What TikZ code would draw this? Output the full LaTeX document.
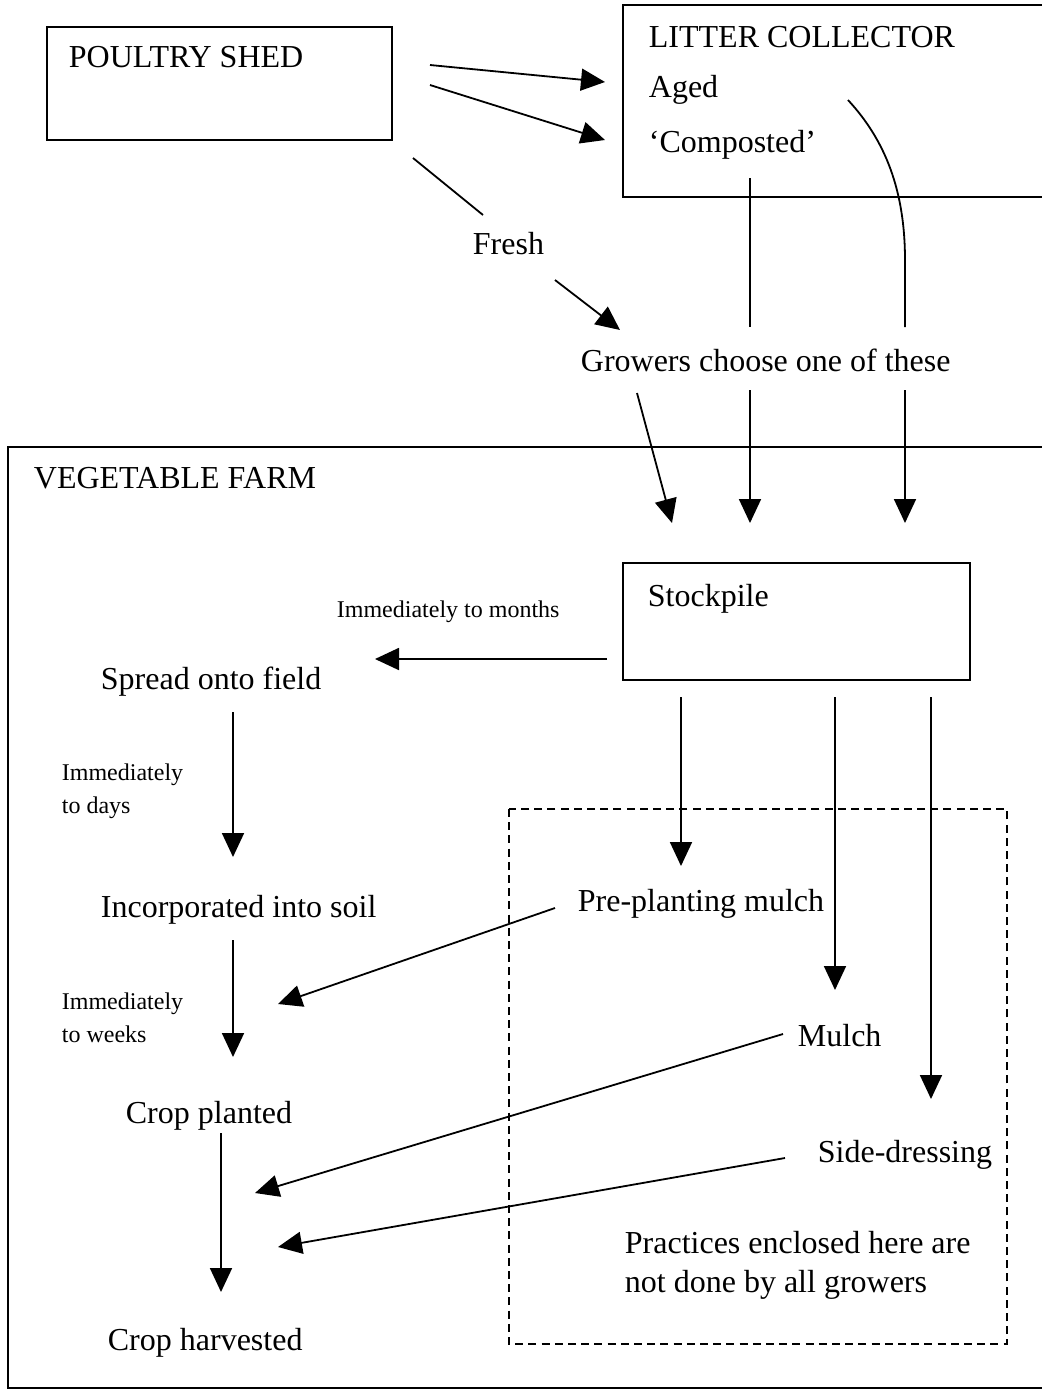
\documentclass[tikz,border=0pt]{standalone}
\usepackage{fontspec}
\setmainfont{Liberation Serif}
\usetikzlibrary{arrows.meta}
\begin{document}
\begin{tikzpicture}[x=0.5pt,y=-0.5pt,
  line width=0.9pt,
  arr/.style={-{Triangle[length=12pt,width=11pt]}},
  big/.style={font=\fontsize{16}{19}\selectfont, inner sep=0pt, anchor=base west},
  small/.style={font=\fontsize{12}{14}\selectfont, inner sep=0pt, anchor=base west},
  box/.style={draw, line width=0.9pt, inner sep=0pt},
  dashbox/.style={draw, line width=0.7pt, dash pattern=on 4pt off 2.6pt}]
\useasboundingbox (0,0) rectangle (1042,1394);

% boxes
\node[box, minimum width=172.5pt, minimum height=56.5pt] (shed) at (219.5,83.5) {};
\draw[line width=0.9pt] (1042,5) -- (623,5) -- (623,197) -- (1042,197);
\draw[line width=0.9pt] (1042,447) -- (8,447) -- (8,1388) -- (1042,1388);
\node[box, minimum width=173.5pt, minimum height=58.5pt] (stock) at (796.5,621.5) {};
\draw[dashbox] (509,809) rectangle (1007,1344);

% texts
\node[big] (shedT) at (68,67) {POULTRY SHED};
\node[big] (litT) at (648,47) {LITTER COLLECTOR};
\node[big] (aged) at (648,97) {Aged};
\node[big] (comp) at (648,152) {‘Composted’};
\node[big] (fresh) at (472,254) {Fresh};
\node[big] (grow) at (580,371) {Growers choose one of these};
\node[big] (veg) at (33,488) {VEGETABLE FARM};
\node[big] (stockT) at (647,606) {Stockpile};
\node[small] (months) at (336,617) {Immediately to months};
\node[big] (spread) at (100,689) {Spread onto field};
\node[small] (d1) at (61,780) {Immediately};
\node[small] (d2) at (61,813) {to days};
\node[big] (incorp) at (100,917) {Incorporated into soil};
\node[small] (w1) at (61,1009) {Immediately};
\node[small] (w2) at (61,1042) {to weeks};
\node[big] (planted) at (125,1123) {Crop planted};
\node[big] (harv) at (107,1350) {Crop harvested};
\node[big] (pre) at (577,911) {Pre-planting mulch};
\node[big] (mulch) at (797,1046) {Mulch};
\node[big] (side) at (817,1162) {Side-dressing};
\node[big] (prac1) at (624,1253) {Practices enclosed here are};
\node[big] (prac2) at (624,1292) {not done by all growers};

% connector end points
\coordinate (a1s) at (430,65);   \coordinate (a1e) at (605,82);
\coordinate (a2s) at (430,85);   \coordinate (a2e) at (605,140);
\coordinate (f1s) at (413,158);  \coordinate (f1e) at (483,215);
\coordinate (f2s) at (555,280);  \coordinate (f2e) at (620,330);
\coordinate (cs) at (750,178);   \coordinate (ce) at (750,327);
\coordinate (gs) at (848,100);   \coordinate (gm) at (905,260); \coordinate (ge) at (905,327);
\coordinate (g1s) at (637,393);  \coordinate (g1e) at (672,523);
\coordinate (g2s) at (750,390);  \coordinate (g2e) at (750,523);
\coordinate (g3s) at (905,390);  \coordinate (g3e) at (905,523);
\coordinate (sps) at (607,659);  \coordinate (spe) at (375,659);
\coordinate (v1s) at (233,712);  \coordinate (v1e) at (233,857);
\coordinate (v2s) at (233,940);  \coordinate (v2e) at (233,1057);
\coordinate (v3s) at (221,1133); \coordinate (v3e) at (221,1292);
\coordinate (s1s) at (681,697);  \coordinate (s1e) at (681,866);
\coordinate (s2s) at (835,697);  \coordinate (s2e) at (835,990);
\coordinate (s3s) at (931,697);  \coordinate (s3e) at (931,1099);
\coordinate (p1s) at (555,908);  \coordinate (p1e) at (278,1004);
\coordinate (p2s) at (783,1034); \coordinate (p2e) at (255,1193);
\coordinate (p3s) at (785,1158); \coordinate (p3e) at (278,1247);

% connectors
\draw[arr] (a1s) -- (a1e);
\draw[arr] (a2s) -- (a2e);
\draw (f1s) -- (f1e);
\draw[arr] (f2s) -- (f2e);
\draw (cs) -- (ce);
\draw (gs) .. controls (885,140) and (905,190) .. (gm) -- (ge);
\draw[arr] (g1s) -- (g1e);
\draw[arr] (g2s) -- (g2e);
\draw[arr] (g3s) -- (g3e);
\draw[arr] (sps) -- (spe);
\draw[arr] (v1s) -- (v1e);
\draw[arr] (v2s) -- (v2e);
\draw[arr] (v3s) -- (v3e);
\draw[arr] (s1s) -- (s1e);
\draw[arr] (s2s) -- (s2e);
\draw[arr] (s3s) -- (s3e);
\draw[arr] (p1s) -- (p1e);
\draw[arr] (p2s) -- (p2e);
\draw[arr] (p3s) -- (p3e);
\end{tikzpicture}
\end{document}
